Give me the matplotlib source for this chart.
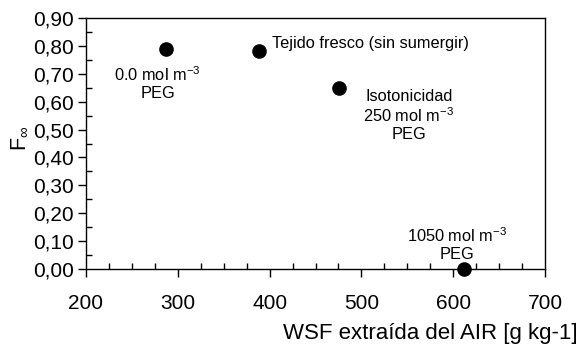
import numpy as np
import matplotlib
matplotlib.use("Agg")
import matplotlib.pyplot as plt
from matplotlib.ticker import MultipleLocator, FuncFormatter


# data
wsf = [287, 388, 476, 612]          # WSF extraida del AIR [g kg-1]
f_inf = [0.79, 0.78, 0.65, 0.00]    # F infinito
labels = [
    "0.0 mol m$^{-3}$\nPEG",
    "Tejido fresco (sin sumergir)",
    "Isotonicidad\n250 mol m$^{-3}$\nPEG",
    "1050 mol m$^{-3}$\nPEG",
]

plt.rcParams['font.family'] = ['Liberation Sans', 'DejaVu Sans']
plt.rcParams['mathtext.fontset'] = 'custom'
plt.rcParams['mathtext.rm'] = 'Liberation Sans'
plt.rcParams['mathtext.it'] = 'Liberation Sans'

fig = plt.figure(figsize=(5.79, 3.53), dpi=100)
axe = fig.add_axes([86 / 579, 1 - 269 / 353, (545 - 86) / 579, (269 - 18) / 353])

axe.plot(wsf, f_inf, 'o', color='black', markersize=9.5, clip_on=False, zorder=5)

axe.set_xlim(200, 700)
axe.set_ylim(0, 0.9)

axe.xaxis.set_major_locator(MultipleLocator(100))
axe.xaxis.set_minor_locator(MultipleLocator(25))
axe.yaxis.set_major_locator(MultipleLocator(0.1))
axe.yaxis.set_minor_locator(MultipleLocator(0.05))
axe.yaxis.set_major_formatter(FuncFormatter(lambda v, p: "{0:.2f}".format(v).replace('.', ',')))

axe.tick_params(which='major', direction='out', length=5.5, width=1, labelsize=15, color='black')
axe.tick_params(axis='x', which='major', pad=12.5)
axe.tick_params(axis='y', which='major', pad=3)
axe.tick_params(which='minor', direction='in', length=4, width=1)
for side in axe.spines.values():
    side.set_linewidth(1)

# annotations, offsets in points from each point
offsets = [(-6, -12), (10, 6), (50, -1), (-5, 5)]
aligns = [('center', 'top'), ('left', 'center'), ('center', 'top'), ('center', 'bottom')]
for xv, yv, txt, off, (ha, va) in zip(wsf, f_inf, labels, offsets, aligns):
    axe.annotate(txt, (xv, yv), xytext=off, textcoords='offset points',
                 ha=ha, va=va, fontsize=11.8, multialignment='center', linespacing=1.15)

fig.text(578 / 579, 1 - 333 / 353, "WSF extraída del AIR [g kg-1]", ha='right', va='center', fontsize=16)
fig.text(20 / 579, 1 - 138 / 353, "F$_{\\infty}$", rotation=90, ha='center', va='center', fontsize=15.5)

fig.savefig("out.png", dpi=100)
